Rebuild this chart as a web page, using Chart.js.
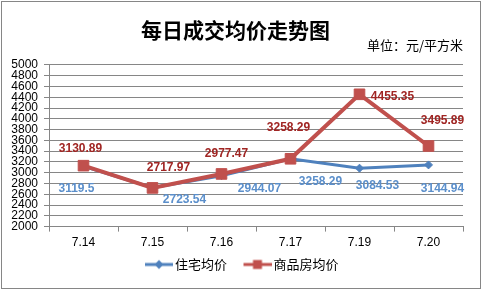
<!DOCTYPE html>
<html>
<head>
<meta charset="utf-8">
<script src="https://cdn.jsdelivr.net/npm/chart.js@4.4.0/dist/chart.umd.min.js"></script>
<style>
    html, body { margin: 0; padding: 0; background: #ffffff; }
    canvas { display: block; }
</style>
</head>
<body>
<canvas id="prix" width="483" height="291"></canvas>
<script>
// Données du graphique
const jours = ['7.14', '7.15', '7.16', '7.17', '7.19', '7.20'];
const prixLogement = [3119.5, 2723.54, 2944.07, 3258.29, 3084.53, 3144.94];
const prixCommercial = [3130.89, 2717.97, 2977.47, 3258.29, 4455.35, 3495.89];
const nomsSeries = ['住宅均价', '商品房均价'];
const ticksY = [2000, 5000, 200];

const bleu = '#4F81BD';
const rouge = '#C0504D';
const gris = '#868686';

// Décalage des étiquettes par rapport au point (placées à la main comme dans Excel)
const decalages = [
    [[-7, 22], [32, 12], [38, 13], [30, 23], [18, 18], [14, 24]],
    [[-3, -17], [16, -20], [5, -20], [-2, -31], [33, 2], [14, -25]]
];
const couleursEtiquettes = ['#5B8FCB', '#A02523'];

// Icône de légende : trait + marqueur (partie gauche vide pour rapprocher le texte)
function iconeLegende(couleur, forme) {
    const c = document.createElement('canvas');
    c.width = 45;
    c.height = 12;
    const g = c.getContext('2d');
    g.strokeStyle = couleur;
    g.fillStyle = couleur;
    g.lineWidth = 3;
    g.beginPath();
    g.moveTo(17, 6);
    g.lineTo(45, 6);
    g.stroke();
    g.beginPath();
    if (forme === 'losange') {
        g.moveTo(31, 1.5);
        g.lineTo(35.5, 6);
        g.lineTo(31, 10.5);
        g.lineTo(26.5, 6);
        g.closePath();
    } else {
        g.rect(26.5, 1.5, 9, 9);
    }
    g.fill();
    return c;
}

const etiquettesPlugin = {
    id: 'etiquettes',
    afterDatasetsDraw(chart) {
        const ctx = chart.ctx;
        ctx.save();
        ctx.font = 'bold 12px "Liberation Sans", Arial, sans-serif';
        ctx.textAlign = 'center';
        ctx.textBaseline = 'middle';
        chart.data.datasets.forEach((ds, i) => {
            const meta = chart.getDatasetMeta(i);
            ctx.fillStyle = couleursEtiquettes[i];
            meta.data.forEach((pt, j) => {
                const d = decalages[i][j];
                ctx.fillText(String(ds.data[j]), pt.x + d[0], pt.y + d[1]);
            });
        });
        ctx.restore();
    }
};

const cadrePlugin = {
    id: 'cadre',
    afterDraw(chart) {
        const ctx = chart.ctx;
        ctx.save();
        ctx.strokeStyle = gris;
        ctx.lineWidth = 1;
        ctx.strokeRect(1.5, 1.5, 479, 287);
        ctx.restore();
    }
};

const ctx = document.getElementById('prix');

new Chart(ctx, {
    type: 'line',
    data: {
        labels: jours,
        datasets: [{
            label: nomsSeries[0],
            data: prixLogement,
            borderColor: bleu,
            backgroundColor: bleu,
            borderWidth: 3,
            pointStyle: 'rectRot',
            pointRadius: 4,
            pointBorderWidth: 1,
            pointBorderColor: bleu,
            pointBackgroundColor: bleu,
            tension: 0,
            order: 1
        }, {
            label: nomsSeries[1],
            data: prixCommercial,
            borderColor: rouge,
            backgroundColor: rouge,
            borderWidth: 4,
            pointStyle: 'rect',
            pointRadius: 7.5,
            pointBorderWidth: 1,
            pointBorderColor: rouge,
            pointBackgroundColor: rouge,
            tension: 0,
            order: 0
        }]
    },
    options: {
        responsive: false,
        animation: false,
        devicePixelRatio: 1,
        layout: {
            padding: { left: 8, right: 20, top: 6, bottom: 10 }
        },
        plugins: {
            title: {
                display: true,
                text: '每日成交均价走势图',
                color: '#000000',
                font: { family: '"Noto Sans CJK SC", sans-serif', size: 21, weight: 'bold', lineHeight: 0.75 },
                padding: { top: 16.6, bottom: 0 }
            },
            subtitle: {
                display: true,
                text: '单位：元/平方米',
                align: 'end',
                color: '#000000',
                font: { family: '"Noto Sans CJK SC", sans-serif', size: 13, lineHeight: 1 },
                padding: { top: 0, bottom: 13.6 }
            },
            legend: {
                position: 'bottom',
                labels: {
                    usePointStyle: true,
                    pointStyleWidth: 36,
                    color: '#000000',
                    font: { family: '"Noto Sans CJK SC", sans-serif', size: 13 },
                    padding: 4,
                    sort: (a, b) => a.datasetIndex - b.datasetIndex,
                    generateLabels(chart) {
                        return chart.data.datasets.map((ds, i) => ({
                            text: ds.label,
                            datasetIndex: i,
                            pointStyle: iconeLegende(ds.borderColor, i === 0 ? 'losange' : 'carre'),
                            fontColor: '#000000',
                            lineWidth: 0,
                            hidden: false
                        }));
                    }
                }
            },
            tooltip: { enabled: false }
        },
        scales: {
            x: {
                offset: true,
                grid: {
                    offset: true,
                    drawOnChartArea: false,
                    drawTicks: true,
                    tickLength: 5,
                    color: gris
                },
                border: { color: gris },
                ticks: {
                    color: '#000000',
                    padding: 4,
                    font: { family: '"Liberation Sans", Arial, sans-serif', size: 12 }
                }
            },
            y: {
                min: ticksY[0],
                max: ticksY[1],
                grid: {
                    color: gris,
                    tickLength: 5
                },
                border: { color: gris },
                ticks: {
                    stepSize: ticksY[2],
                    autoSkip: false,
                    padding: 6,
                    color: '#000000',
                    font: { family: '"Liberation Sans", Arial, sans-serif', size: 12 },
                    callback: (v) => String(v)
                },
                afterFit(scale) {
                    scale.width = 41;
                }
            }
        }
    },
    plugins: [etiquettesPlugin, cadrePlugin]
});
</script>
</body>
</html>
